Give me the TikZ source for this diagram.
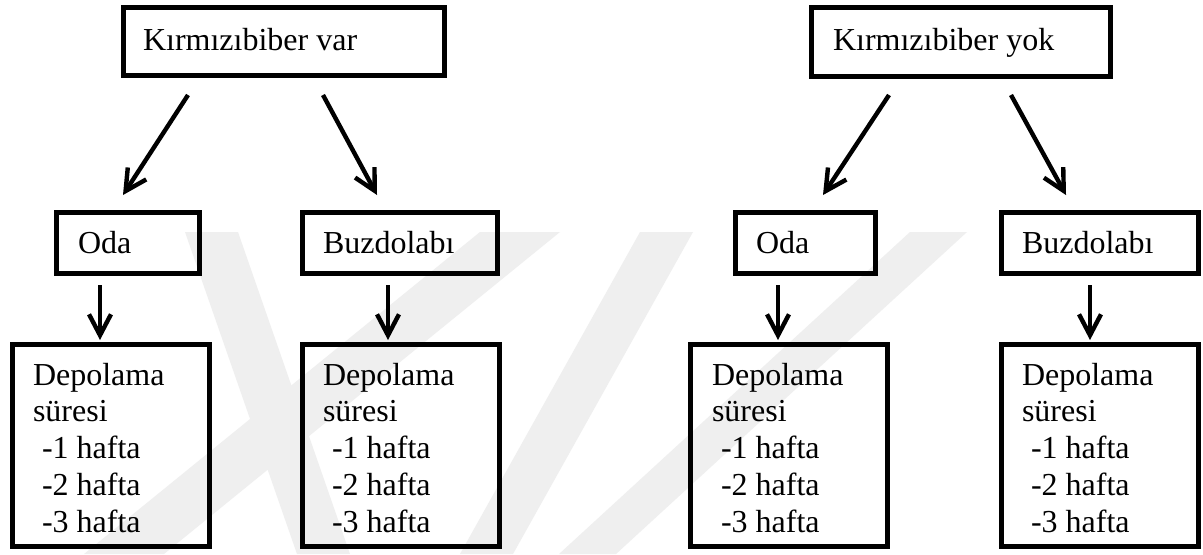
\documentclass[tikz,border=0pt]{standalone}
\usepackage{fontspec}
\setmainfont{Liberation Serif}
\usetikzlibrary{arrows.meta,calc}
\definecolor{wm}{RGB}{239,239,239}
\tikzset{
  box/.style={draw=black, line width=2.6pt, inner sep=0pt, outer sep=0pt, rectangle},
  lbl/.style={anchor=base west, inner sep=0pt, outer sep=0pt, font=\fontsize{16}{18}\selectfont},
  arr/.style={line width=2.2pt, -{Straight Barb[length=10.5pt,width=11pt]}},
  wmark/.style={fill=wm, draw=none}
}
\newcommand\deplines[3]{%
  \node[lbl] (#1-1) at (#2,#3) {Depolama};
  \node[lbl] (#1-2) at (#2,#3+36.75) {süresi};
  \node[lbl] (#1-3) at (#2+9,#3+73.5) {-1 hafta};
  \node[lbl] (#1-4) at (#2+9,#3+110.25) {-2 hafta};
  \node[lbl] (#1-5) at (#2+9,#3+147) {-3 hafta};
}
\begin{document}
\begin{tikzpicture}[x=0.5pt,y=-0.5pt]
\useasboundingbox (0,0) rectangle (1203,554);
\fill[white] (0,0) rectangle (1203,554);
% watermark
\begin{scope}
\clip (0,0) rectangle (1203,554);
\fill[wmark] (185,232) -- (238,232) -- (350,554) -- (297,554) -- cycle;
\fill[wmark] (480,232) -- (560,232) -- (164,554) -- (84,554) -- cycle;
\fill[wmark] (640,232) -- (693,232) -- (513,554) -- (460,554) -- cycle;
\fill[wmark] (910,232) -- (967,232) -- (616,554) -- (559,554) -- cycle;
\end{scope}
% boxes
\node[box, minimum width=160.5pt, minimum height=34pt] (tL) at (284,41.5) {};
\node[box, minimum width=149.5pt, minimum height=34.5pt] (tR) at (961,42) {};
\node[box, minimum width=71.5pt, minimum height=30.5pt] (mOL) at (128,243) {};
\node[box, minimum width=97.5pt, minimum height=30.5pt] (mBL) at (400,243) {};
\node[box, minimum width=70pt, minimum height=30.5pt] (mOR) at (805.5,243) {};
\node[box, minimum width=98.5pt, minimum height=30.5pt] (mBR) at (1100,243) {};
\node[box, minimum width=98.5pt, minimum height=101pt] (bOL) at (111,445.5) {};
\node[box, minimum width=98.5pt, minimum height=101pt] (bBL) at (401,445.5) {};
\node[box, minimum width=98.5pt, minimum height=101pt] (bOR) at (789,445.5) {};
\node[box, minimum width=98.5pt, minimum height=101pt] (bBR) at (1100,445.5) {};
% texts
\node[lbl] (ttL) at (143,50) {Kırmızıbiber var};
\node[lbl] (ttR) at (833,50) {Kırmızıbiber yok};
\node[lbl] (tmOL) at (78,253) {Oda};
\node[lbl] (tmBL) at (323,253) {Buzdolabı};
\node[lbl] (tmOR) at (756,253) {Oda};
\node[lbl] (tmBR) at (1022,253) {Buzdolabı};
\deplines{dOL}{33}{385}
\deplines{dBL}{323}{385}
\deplines{dOR}{712}{385}
\deplines{dBR}{1022}{385}
% arrows
\draw[arr] ($(tL.south)+(-96,19.5)$) -- ($(mOL.north)+(-5,-17.5)$);
\draw[arr] ($(tL.south)+(39,19.5)$) -- ($(mBL.north)+(-23,-17.5)$);
\draw[arr] ($(tR.south)+(-72,18.5)$) -- ($(mOR.north)+(17.5,-17.5)$);
\draw[arr] ($(tR.south)+(50,18.5)$) -- ($(mBR.north)+(-34,-17.5)$);
\draw[arr] ($(mOL.south)+(-28,11.5)$) -- ($(bOL.north)+(-11,-4.5)$);
\draw[arr] ($(mBL.south)+(-12,11.5)$) -- ($(bBL.north)+(-13,-4.5)$);
\draw[arr] ($(mOR.south)+(-27.5,11.5)$) -- ($(bOR.north)+(-11,-4.5)$);
\draw[arr] ($(mBR.south)+(-10,11.5)$) -- ($(bBR.north)+(-10,-4.5)$);
\end{tikzpicture}
\end{document}
